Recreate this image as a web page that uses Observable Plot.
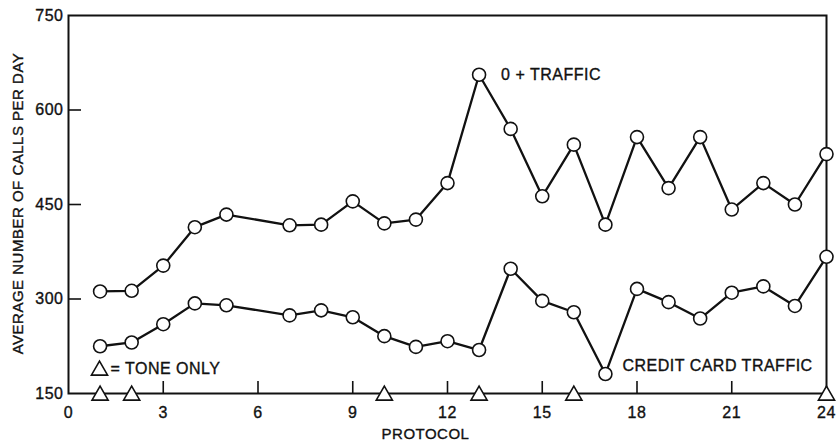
<!DOCTYPE html>
<html><head><meta charset="utf-8">
<script src="https://cdn.jsdelivr.net/npm/d3@7"></script>
<script src="https://cdn.jsdelivr.net/npm/@observablehq/plot@0.6"></script>
<style>body{margin:0;background:#fff} svg text{stroke:#111;stroke-width:0.35px}</style>
</head><body><div id="chart"></div>
<script>
const protocols = [1,2,3,4,5,7,8,9,10,11,12,13,14,15,16,17,18,19,20,21,22,23,24];
const zeroPlusTraffic = [312,313,353,414,434,417,418,455,420,426,484,656,570,463,545,418,557,476,557,442,484,450,530];
const creditCardTraffic = [225,231,260,293,290,274,282,271,241,224,233,219,348,297,279,181,316,295,269,310,320,289,367];
const toneOnlyProtocols = [1,2,10,13,16,24];
const xTickLabels = [0,3,6,9,12,15,18,21,24];
const yTickLabels = [150,300,450,600,750];
const xInnerTicks = [3,6,9,12,15,18,21];
const yInnerTicks = [300,450,600];
const seriesNames = ["0 + TRAFFIC", "CREDIT CARD TRAFFIC"];
const yLabel = "AVERAGE NUMBER OF CALLS PER DAY";
const xLabel = "PROTOCOL";
const legendLabel = "= TONE ONLY";

const rows = [
  ...protocols.map((p, i) => ({protocol: p, value: zeroPlusTraffic[i], series: seriesNames[0]})),
  ...protocols.map((p, i) => ({protocol: p, value: creditCardTraffic[i], series: seriesNames[1]}))
];
const zeroLabelRow = rows.filter(d => d.series === seriesNames[0] && d.protocol === 13);
const ccLabelRow = rows.filter(d => d.series === seriesNames[1] && d.protocol === 17);

const chart = Plot.plot({
  width: 836,
  height: 443,
  marginLeft: 68,
  marginTop: 15,
  marginRight: 10,
  marginBottom: 50,
  x: {domain: [0, 24]},
  y: {domain: [150, 750]},
  style: {fontFamily: "'Liberation Sans', Arial, sans-serif", fontSize: "16px", color: "#111", background: "#fff", letterSpacing: "0.5px"},
  marks: [
    Plot.axisX(xTickLabels, {tickSize: 0, tickPadding: 13, label: null, fontSize: 16}),
    Plot.axisY(yTickLabels, {tickSize: 0, tickPadding: 5, label: null, fontSize: 16}),
    Plot.ruleX(xInnerTicks, {x: d => d, y1: 150, y2: 150, insetTop: -12, stroke: "#111", strokeWidth: 1.6}),
    Plot.ruleY(yInnerTicks, {y: d => d, x1: 0, x2: 0, insetRight: -13, stroke: "#111", strokeWidth: 1.6}),
    Plot.frame({stroke: "#111", strokeWidth: 2}),
    Plot.line(rows, {x: "protocol", y: "value", z: "series", stroke: "#111", strokeWidth: 2.3}),
    Plot.dot(rows, {x: "protocol", y: "value", r: 6.5, fill: "#fff", stroke: "#111", strokeWidth: 1.6}),
    Plot.dot(toneOnlyProtocols, {x: d => d, y: () => 150, symbol: "triangle", r: 6, dy: 2, fill: "#fff", stroke: "#111", strokeWidth: 1.6, clip: false}),
    Plot.text(zeroLabelRow, {x: "protocol", y: "value", text: "series", textAnchor: "start", dx: 22, fontSize: 16}),
    Plot.text(ccLabelRow, {x: "protocol", y: "value", text: "series", textAnchor: "start", dx: 17, dy: -8, fontSize: 16}),
    Plot.dot([legendLabel], {frameAnchor: "bottom-left", symbol: "triangle", r: 6, dx: 31, dy: -23, fill: "#fff", stroke: "#111", strokeWidth: 1.6}),
    Plot.text([legendLabel], {frameAnchor: "bottom-left", text: d => d, textAnchor: "start", lineAnchor: "middle", dx: 42, dy: -25, fontSize: 16}),
    Plot.text([yLabel], {frameAnchor: "left", text: d => d, rotate: -90, dx: -50, dy: -1, textAnchor: "middle", lineAnchor: "middle", fontSize: 15}),
    Plot.text([xLabel], {frameAnchor: "bottom", text: d => d, dx: -22, dy: 41, lineAnchor: "middle", fontSize: 15})
  ]
});
document.getElementById("chart").appendChild(chart);
</script>
</body></html>
